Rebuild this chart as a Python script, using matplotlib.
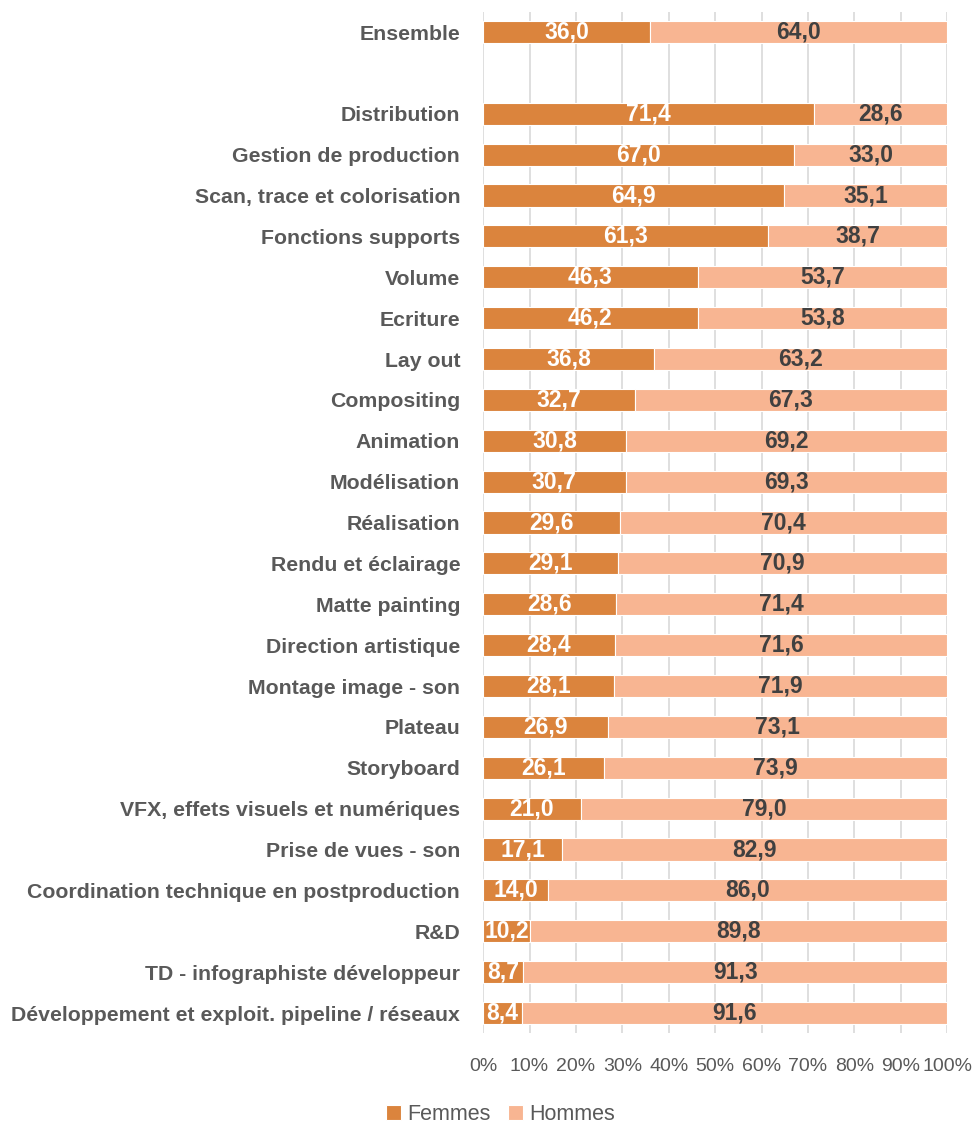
import numpy as np
import matplotlib
matplotlib.use("Agg")
import matplotlib.pyplot as plt
from matplotlib.ticker import FixedLocator, PercentFormatter

# Données (de haut en bas), "" = ligne vide entre Ensemble et le reste
categories = ["Ensemble", "", "Distribution", "Gestion de production",
              "Scan, trace et colorisation", "Fonctions supports", "Volume",
              "Ecriture", "Lay out", "Compositing", "Animation", "Modélisation",
              "Réalisation", "Rendu et éclairage", "Matte painting",
              "Direction artistique", "Montage image - son", "Plateau",
              "Storyboard", "VFX, effets visuels et numériques",
              "Prise de vues - son", "Coordination technique en postproduction",
              "R&D", "TD - infographiste développeur",
              "Développement et exploit. pipeline / réseaux"]
femmes = [36.0, None, 71.4, 67.0, 64.9, 61.3, 46.3, 46.2, 36.8, 32.7, 30.8,
          30.7, 29.6, 29.1, 28.6, 28.4, 28.1, 26.9, 26.1, 21.0, 17.1, 14.0,
          10.2, 8.7, 8.4]
hommes = [64.0, None, 28.6, 33.0, 35.1, 38.7, 53.7, 53.8, 63.2, 67.3, 69.2,
          69.3, 70.4, 70.9, 71.4, 71.6, 71.9, 73.1, 73.9, 79.0, 82.9, 86.0,
          89.8, 91.3, 91.6]

c_f = "#DB843D"
c_h = "#F8B592"
gris = "#595959"
police = "Liberation Sans"

fig = plt.figure(figsize=(9.76, 11.26), dpi=100)
ax = fig.add_axes([0.495, 0.0822, 0.4755, 0.9075])

y = np.arange(len(categories))
ok = np.array([v is not None for v in femmes])
f = np.array([v for v in femmes if v is not None])
h = np.array([v for v in hommes if v is not None])
yy = y[ok]

bf = ax.barh(yy, f, height=0.54, color=c_f, edgecolor="white", linewidth=0.8,
             label="Femmes", zorder=3)
bh = ax.barh(yy, h, left=f, height=0.54, color=c_h, edgecolor="white",
             linewidth=0.8, label="Hommes", zorder=3)

fmt = lambda v: f"{v:.1f}".replace(".", ",")
for yi, fi, hi in zip(yy, f, h):
    ax.text(fi / 2, yi, fmt(fi), ha="center", va="center", color="white",
            fontsize=16.5, fontweight="bold", family=police, zorder=4)
    ax.text(fi + hi / 2, yi, fmt(hi), ha="center", va="center",
            color="#404040", fontsize=16.5, fontweight="bold",
            family=police, zorder=4)

ax.set_ylim(len(categories) - 0.5, -0.5)
ax.set_xlim(0, 100)
ax.set_yticks(y)
ax.set_yticklabels(categories, fontsize=15.3, fontweight="bold", color=gris,
                   family=police)
ax.xaxis.set_major_locator(FixedLocator(np.arange(0, 101, 10)))
ax.xaxis.set_major_formatter(PercentFormatter(decimals=0))
for lab in ax.get_xticklabels():
    lab.set_fontsize(14)
    lab.set_color(gris)
    lab.set_family(police)
ax.tick_params(axis="y", length=0, pad=16.5)
ax.tick_params(axis="x", length=0, pad=18)
ax.grid(axis="x", color="#D9D9D9", linewidth=1.2, zorder=0)
for s in ax.spines.values():
    s.set_visible(False)

leg = fig.legend(handles=[bf, bh], loc="center", bbox_to_anchor=(0.513, 0.01),
                 ncol=2, frameon=False, handlelength=0.7, handleheight=0.7,
                 handletextpad=0.3, columnspacing=0.8,
                 prop={"family": police, "size": 15.5})
for t in leg.get_texts():
    t.set_color(gris)

fig.savefig("out.png", dpi=100)
